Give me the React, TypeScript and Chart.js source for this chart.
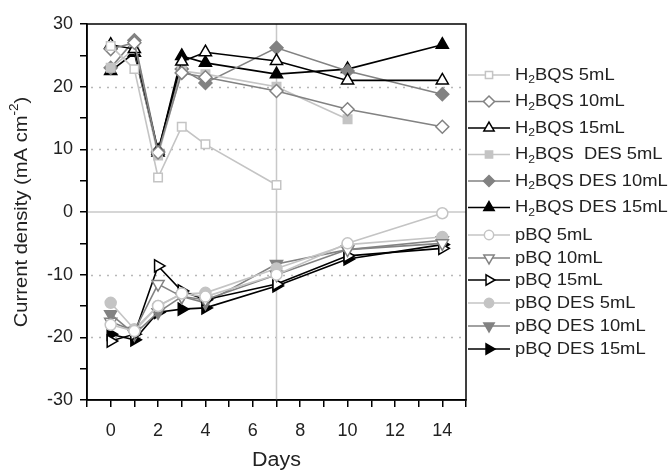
import React, { useEffect, useRef } from "react";
import { Chart, registerables } from "chart.js";

Chart.register(...registerables);

const days = [0, 1, 2, 3, 4, 7, 10, 14];

const h2bqs5 = [26.5, 22.8, 5.5, 13.6, 10.8, 4.3, null, null];
const h2bqs10 = [26, 27, 9.5, 22.2, 21.5, 19.3, 16.4, 13.6];
const h2bqs15 = [26.7, 26, 9.8, 24, 25.5, 24.1, 21, 21];
const h2bqsDes5 = [23, 26, 9, 22.5, 22, 20, 14.8, null];
const h2bqsDes10 = [23, 27.4, 9.7, 22.8, 20.6, 26.2, 22.5, 18.8];
const h2bqsDes15 = [22.5, 25.4, 9.5, 24.9, 23.8, 22, 22.8, 26.7];
const pbq5 = [-18, -19, -15, -13, -13.5, -10, -5, -0.2];
const pbq10 = [-17.5, -19, -11.5, -13.5, -14, -10, -6, -5];
const pbq15 = [-20.6, -19.5, -8.6, -12.6, -14, -11.5, -7, -5.8];
const pbqDes5 = [-14.5, -18.7, -15, -13.1, -12.9, -9, -5.2, -4];
const pbqDes10 = [-16.3, -19.5, -16, -13.5, -14.5, -8.3, -6, -4.5];
const pbqDes15 = [-19.5, -20.4, -16, -15.5, -15.3, -11.8, -7.5, -5.2];

const seriesLabels = [
  "H₂BQS 5mL",
  "H₂BQS 10mL",
  "H₂BQS 15mL",
  "H₂BQS  DES 5mL",
  "H₂BQS DES 10mL",
  "H₂BQS DES 15mL",
  "pBQ 5mL",
  "pBQ 10mL",
  "pBQ 15mL",
  "pBQ DES 5mL",
  "pBQ DES 10mL",
  "pBQ DES 15mL",
];
const seriesValues = [
  h2bqs5, h2bqs10, h2bqs15, h2bqsDes5, h2bqsDes10, h2bqsDes15,
  pbq5, pbq10, pbq15, pbqDes5, pbqDes10, pbqDes15,
];

const xTicks = [0, 2, 4, 6, 8, 10, 12, 14];
const yTicks = [-30, -20, -10, 0, 10, 20, 30];

const LIGHT = "#c4c4c4";
const MID = "#828282";
const DARK = "#000000";
const FONT = "'Liberation Sans', Arial, sans-serif";

type Style = { color: string; shape: string; filled: boolean; rot: number; r: number };
const styles: Style[] = [
  { color: LIGHT, shape: "rect", filled: false, rot: 0, r: 6 },
  { color: MID, shape: "rectRot", filled: false, rot: 0, r: 6.5 },
  { color: DARK, shape: "triangle", filled: false, rot: 0, r: 7 },
  { color: LIGHT, shape: "rect", filled: true, rot: 0, r: 6 },
  { color: MID, shape: "rectRot", filled: true, rot: 0, r: 6.5 },
  { color: DARK, shape: "triangle", filled: true, rot: 0, r: 7 },
  { color: LIGHT, shape: "circle", filled: false, rot: 0, r: 5.5 },
  { color: MID, shape: "triangle", filled: false, rot: 180, r: 7 },
  { color: DARK, shape: "triangle", filled: false, rot: 90, r: 7 },
  { color: LIGHT, shape: "circle", filled: true, rot: 0, r: 5.5 },
  { color: MID, shape: "triangle", filled: true, rot: 180, r: 7 },
  { color: DARK, shape: "triangle", filled: true, rot: 90, r: 7 },
];

const legendY = [75, 101.5, 128, 154.5, 181, 207.5, 235, 258, 280, 303, 326, 349];

function drawMarker(ctx: CanvasRenderingContext2D, s: Style, x: number, y: number, r: number) {
  ctx.save();
  ctx.translate(x, y);
  ctx.rotate((s.rot * Math.PI) / 180);
  ctx.beginPath();
  if (s.shape === "rect") {
    const h = r * Math.SQRT1_2;
    ctx.rect(-h, -h, 2 * h, 2 * h);
  } else if (s.shape === "rectRot") {
    ctx.moveTo(0, -r);
    ctx.lineTo(r, 0);
    ctx.lineTo(0, r);
    ctx.lineTo(-r, 0);
    ctx.closePath();
  } else if (s.shape === "circle") {
    ctx.arc(0, 0, r, 0, Math.PI * 2);
  } else {
    const a = (r * 3) / Math.sqrt(3) / 2;
    const h = r * 1.5;
    ctx.moveTo(0, -h * 2 / 3);
    ctx.lineTo(a, h / 3);
    ctx.lineTo(-a, h / 3);
    ctx.closePath();
  }
  ctx.fillStyle = s.filled ? s.color : "#ffffff";
  ctx.fill();
  ctx.lineWidth = 1.5;
  ctx.strokeStyle = s.color;
  ctx.stroke();
  ctx.restore();
}

function drawSubLabel(ctx: CanvasRenderingContext2D, text: string, x: number, y: number, size: number, hs: number) {
  const parts = text.split("₂");
  ctx.save();
  ctx.translate(x, y);
  ctx.scale(hs, 1);
  ctx.textBaseline = "middle";
  ctx.textAlign = "left";
  let cx = 0;
  parts.forEach((p, i) => {
    ctx.font = `${size}px ${FONT}`;
    ctx.fillText(p, cx, 0);
    cx += ctx.measureText(p).width;
    if (i < parts.length - 1) {
      ctx.font = `${size * 0.66}px ${FONT}`;
      ctx.fillText("2", cx, size * 0.3);
      cx += ctx.measureText("2").width;
    }
  });
  ctx.restore();
}

const overlay = {
  id: "overlay",
  beforeDatasetsDraw(chart: any) {
    const { ctx, chartArea, scales } = chart;
    const xs = scales.x;
    const ys = scales.y;
    ctx.save();
    ctx.strokeStyle = "#b8b8b8";
    ctx.lineWidth = 1.5;
    ctx.setLineDash([2, 6]);
    [-20, -10, 10, 20].forEach((v) => {
      const py = Math.round(ys.getPixelForValue(v)) + 0.5;
      ctx.beginPath();
      ctx.moveTo(chartArea.left + 4, py);
      ctx.lineTo(chartArea.right - 4, py);
      ctx.stroke();
    });
    ctx.setLineDash([]);
    ctx.strokeStyle = "#c8c8c8";
    ctx.lineWidth = 1.5;
    const zy = ys.getPixelForValue(0);
    ctx.beginPath();
    ctx.moveTo(chartArea.left, zy);
    ctx.lineTo(chartArea.right, zy);
    ctx.stroke();
    const vx = xs.getPixelForValue(7);
    ctx.beginPath();
    ctx.moveTo(vx, chartArea.top);
    ctx.lineTo(vx, chartArea.bottom);
    ctx.stroke();
    ctx.restore();
  },
  afterDraw(chart: any) {
    const { ctx, chartArea } = chart;
    ctx.save();
    ctx.strokeStyle = "#000";
    ctx.lineWidth = 1.5;
    ctx.strokeRect(chartArea.left, chartArea.top, chartArea.right - chartArea.left, chartArea.bottom - chartArea.top);
    // y title
    ctx.fillStyle = "#222";
    ctx.save();
    ctx.translate(22, (chartArea.top + chartArea.bottom) / 2);
    ctx.rotate(-Math.PI / 2);
    ctx.scale(1.12, 1);
    const main = "Current density (mA cm";
    ctx.font = `18px ${FONT}`;
    const w1 = ctx.measureText(main).width;
    ctx.font = `12px ${FONT}`;
    const w2 = ctx.measureText("-2").width;
    ctx.font = `18px ${FONT}`;
    const w3 = ctx.measureText(")").width;
    const total = w1 + w2 + w3;
    let sx = -total / 2;
    ctx.textBaseline = "middle";
    ctx.textAlign = "left";
    ctx.fillText(main, sx, 0);
    sx += w1;
    ctx.font = `12px ${FONT}`;
    ctx.fillText("-2", sx, -7);
    sx += w2;
    ctx.font = `18px ${FONT}`;
    ctx.fillText(")", sx, 0);
    ctx.restore();
    // x title
    ctx.save();
    ctx.translate((chartArea.left + chartArea.right) / 2, 461);
    ctx.scale(1.1, 1);
    ctx.font = `19.5px ${FONT}`;
    ctx.textAlign = "center";
    ctx.textBaseline = "middle";
    ctx.fillText("Days", 0, 0);
    ctx.restore();
    // legend
    seriesLabels.forEach((lab, i) => {
      const y = legendY[i];
      const s = styles[i];
      ctx.strokeStyle = s.color;
      ctx.lineWidth = 1.5;
      ctx.beginPath();
      ctx.moveTo(468, y);
      ctx.lineTo(510, y);
      ctx.stroke();
      drawMarker(ctx, s, 489, y, s.r * 0.85);
      ctx.fillStyle = "#222";
      drawSubLabel(ctx, lab, 515, y, 17, 1.08);
    });
    ctx.restore();
  },
};

export default function App() {
  const ref = useRef<HTMLCanvasElement>(null);
  useEffect(() => {
    if (!ref.current) return;
    const datasets = seriesValues.map((vals, i) => {
      const s = styles[i];
      const pts = days
        .map((d, j) => ({ x: d, y: vals[j] }))
        .filter((p) => p.y !== null && p.y !== undefined);
      return {
        label: seriesLabels[i],
        data: pts,
        borderColor: s.color,
        backgroundColor: s.filled ? s.color : "#ffffff",
        pointBackgroundColor: s.filled ? s.color : "#ffffff",
        pointBorderColor: s.color,
        pointStyle: s.shape,
        pointRotation: s.rot,
        pointRadius: s.r,
        pointBorderWidth: 1.5,
        borderWidth: 1.6,
        tension: 0,
        fill: false,
      };
    });
    const chart = new Chart(ref.current, {
      type: "line",
      data: { datasets: datasets as any },
      options: {
        animation: false,
        responsive: false,
        events: [],
        layout: { padding: { top: 24, right: 204, left: 0, bottom: 0 } },
        plugins: { legend: { display: false }, tooltip: { enabled: false } },
        scales: {
          x: {
            type: "linear",
            min: -1,
            max: 15,
            afterFit: (s: any) => { s.height = 72; },
            afterBuildTicks: (s: any) => {
              const t = [];
              for (let v = -1; v <= 15; v++) t.push({ value: v });
              s.ticks = t;
            },
            ticks: {
              autoSkip: false,
              maxRotation: 0,
              padding: 13,
              color: "#222",
              font: { family: FONT, size: 18 },
              callback: (v: any) => (xTicks.includes(Number(v)) ? String(v) : ""),
            },
            grid: { drawOnChartArea: false, drawTicks: true, tickLength: 7, color: "#000", lineWidth: 1.5 },
            border: { display: true, color: "#000", width: 1.5 },
          },
          y: {
            type: "linear",
            min: -30,
            max: 30,
            afterFit: (s: any) => { s.width = 87; },
            afterBuildTicks: (s: any) => {
              const t = [];
              for (let v = -30; v <= 30; v += 5) t.push({ value: v });
              s.ticks = t;
            },
            ticks: {
              autoSkip: false,
              padding: 7,
              color: "#222",
              font: { family: FONT, size: 18 },
              callback: (v: any) => (yTicks.includes(Number(v)) ? String(v) : ""),
            },
            grid: { drawOnChartArea: false, drawTicks: true, tickLength: 7, color: "#000", lineWidth: 1.5 },
            border: { display: true, color: "#000", width: 1.5 },
          },
        },
      },
      plugins: [overlay],
    });
    return () => chart.destroy();
  }, []);
  return (
    <div style={{ position: "fixed", left: 0, top: 0, width: 670, height: 472, background: "#fff" }}>
      <canvas ref={ref} width={670} height={472} style={{ width: 670, height: 472, display: "block" }} />
    </div>
  );
}
